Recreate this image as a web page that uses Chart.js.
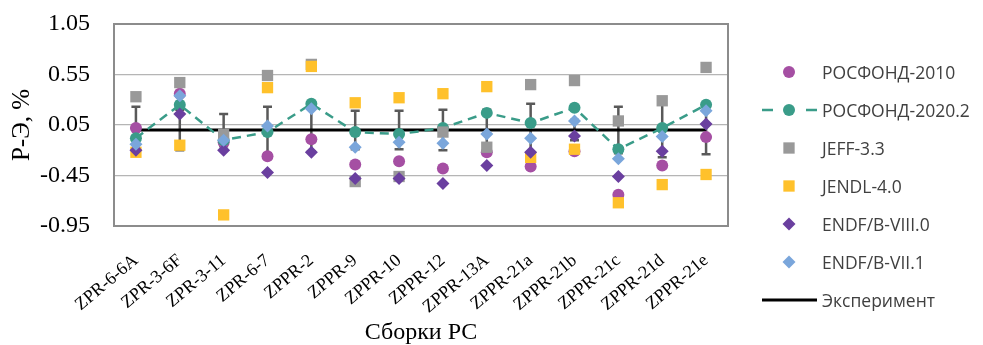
<!DOCTYPE html>
<html>
<head>
<meta charset="utf-8">
<script src="https://cdn.jsdelivr.net/npm/chart.js@4.4.1/dist/chart.umd.min.js"></script>
<style>
  body { margin: 0; background: #fff; }
  #wrap { position: relative; width: 983px; height: 345px; }
  #legend {
    position: absolute; left: 761px; top: 53px;
    font-family: 'Open Sans', sans-serif; font-size: 17.5px; color: #404040;
  }
  .item { display: flex; align-items: center; height: 38px; white-space: nowrap; }
  .item canvas { width: 56px; height: 20px; margin-right: 5px; }
</style>
</head>
<body>
<div id="wrap">
  <canvas id="chart" width="983" height="345"></canvas>
  <div id="legend"></div>
</div>
<script>
// Assemblies (x categories)
const assemblies = ['ZPR-6-6A', 'ZPR-3-6F', 'ZPR-3-11', 'ZPR-6-7', 'ZPPR-2', 'ZPPR-9', 'ZPPR-10',
  'ZPPR-12', 'ZPPR-13A', 'ZPPR-21a', 'ZPPR-21b', 'ZPPR-21c', 'ZPPR-21d', 'ZPPR-21e'];

// C-E deviations, %
const rosfond2010 = [0.02, 0.36, -0.12, -0.26, -0.09, -0.34, -0.31, -0.38, -0.22, -0.36, -0.21, -0.64, -0.35, -0.07];
const rosfond2020 = [-0.08, 0.25, -0.10, -0.02, 0.26, -0.02, -0.04, 0.02, 0.17, 0.07, 0.22, -0.19, 0.02, 0.25];
const jeff33 = [0.33, 0.47, -0.04, 0.54, 0.65, -0.51, -0.46, -0.02, -0.17, 0.45, 0.49, 0.09, 0.29, 0.62];
const jendl40 = [-0.22, -0.15, -0.84, 0.42, 0.63, 0.27, 0.32, 0.36, 0.43, -0.27, -0.19, -0.72, -0.54, -0.44];
const endf80 = [-0.20, 0.16, -0.20, -0.42, -0.22, -0.48, -0.48, -0.53, -0.35, -0.22, -0.06, -0.46, -0.21, 0.06];
const endf71 = [-0.14, 0.34, -0.10, 0.04, 0.21, -0.17, -0.12, -0.13, -0.04, -0.08, 0.09, -0.285, -0.065, 0.19];

// Experiment and its uncertainty
const experiment = [0, 0, 0, 0, 0, 0, 0, 0, 0, 0, 0, 0, 0, 0];
const expError = [0.23, 0.20, 0.16, 0.23, 0.21, 0.19, 0.19, 0.20, 0.20, 0.26, 0.10, 0.23, 0.27, 0.24];

// Y axis ticks
const yTicks = [-0.95, -0.45, 0.05, 0.55, 1.05];

// Plot frame + error bars around experiment
const errorBars = {
  id: 'errorBars',
  beforeDatasetsDraw(chart) {
    const { ctx, chartArea, scales: { x, y } } = chart;
    ctx.save();
    ctx.strokeStyle = '#8c8c8c';
    ctx.lineWidth = 2;
    ctx.strokeRect(chartArea.left, chartArea.top, chartArea.right - chartArea.left, chartArea.bottom - chartArea.top);

    ctx.strokeStyle = '#595959';
    ctx.lineWidth = 2.5;
    experiment.forEach((v, i) => {
      const px = x.getPixelForValue(i);
      const top = y.getPixelForValue(v + expError[i]);
      const bot = y.getPixelForValue(v - expError[i]);
      ctx.beginPath();
      ctx.moveTo(px, top); ctx.lineTo(px, bot);
      ctx.moveTo(px - 4.5, top); ctx.lineTo(px + 4.5, top);
      ctx.moveTo(px - 4.5, bot); ctx.lineTo(px + 4.5, bot);
      ctx.stroke();
    });
    ctx.restore();
  }
};

function markers(label, data, color, style, radius, order) {
  return {
    label: label,
    data: data,
    showLine: false,
    pointStyle: style,
    pointRadius: radius,
    pointBackgroundColor: color,
    pointBorderWidth: 0,
    borderColor: color,
    backgroundColor: color,
    order: order
  };
}

const datasets = [
  markers('РОСФОНД-2010', rosfond2010, '#a54fa3', 'circle', 6, 6),
  {
    label: 'РОСФОНД-2020.2',
    data: rosfond2020,
    borderColor: '#3a9c89',
    borderWidth: 2.5,
    borderDash: [9, 6],
    pointStyle: 'circle',
    pointRadius: 6,
    pointBackgroundColor: '#3a9c89',
    pointBorderWidth: 0,
    backgroundColor: '#3a9c89',
    order: 5
  },
  markers('JEFF-3.3', jeff33, '#999999', 'rect', 8, 4),
  markers('JENDL-4.0', jendl40, '#ffc12b', 'rect', 8, 3),
  markers('ENDF/B-VIII.0', endf80, '#6a3f9f', 'rectRot', 6.5, 2),
  markers('ENDF/B-VII.1', endf71, '#7aa6db', 'rectRot', 6.5, 1),
  {
    label: 'Эксперимент',
    data: experiment,
    borderColor: '#000000',
    borderWidth: 3,
    pointRadius: 0,
    order: 10
  }
];

const chart = new Chart(document.getElementById('chart'), {
  type: 'line',
  data: { labels: assemblies, datasets: datasets },
  options: {
    responsive: false,
    animation: false,
    layout: { padding: { top: 24, right: 255, left: 0, bottom: 0 } },
    plugins: {
      legend: { display: false },
      tooltip: { enabled: false }
    },
    scales: {
      x: {
        offset: true,
        grid: { display: false },
        border: { display: false },
        ticks: {
          autoSkip: false,
          minRotation: 40,
          maxRotation: 40,
          padding: 16,
          color: '#000',
          font: { family: 'Liberation Serif', size: 18 }
        },
        title: {
          display: true,
          text: 'Сборки РС',
          color: '#000',
          padding: { top: 0, bottom: 0 },
          font: { family: 'Liberation Serif', size: 24, lineHeight: 1 }
        },
        afterFit(scale) { scale.height = 119; }
      },
      y: {
        min: -0.95,
        max: 1.05,
        grid: { color: '#b5b5b5', lineWidth: 1.3, drawTicks: false },
        border: { display: false },
        afterBuildTicks(scale) { scale.ticks = yTicks.map(v => ({ value: v })); },
        ticks: {
          padding: 24,
          color: '#000',
          font: { family: 'Liberation Serif', size: 24 },
          callback: v => v.toFixed(2)
        },
        title: {
          display: true,
          text: 'Р-Э, %',
          color: '#000',
          padding: { top: 10, bottom: 0 },
          font: { family: 'Liberation Serif', size: 25, lineHeight: 1 }
        },
        afterFit(scale) {
          scale.width = 114;
          // tick padding should not push the plot area down
          scale.paddingTop = 14;
          scale.paddingBottom = 14;
        }
      }
    }
  },
  plugins: [errorBars]
});

// HTML legend built from the datasets
function drawIcon(cv, ds) {
  const c = cv.getContext('2d');
  cv.width = 56; cv.height = 20;
  const cx = 28, cy = 10;
  if (ds.showLine !== false) {
    c.strokeStyle = ds.borderColor;
    c.lineWidth = ds.borderWidth;
    if (ds.borderDash) c.setLineDash([11, 33]);
    c.beginPath(); c.moveTo(1, cy); c.lineTo(56, cy); c.stroke();
    c.setLineDash([]);
  }
  const r = ds.pointRadius;
  if (!r) return;
  c.fillStyle = ds.pointBackgroundColor;
  c.beginPath();
  if (ds.pointStyle === 'circle') {
    c.arc(cx, cy, r, 0, Math.PI * 2);
  } else if (ds.pointStyle === 'rect') {
    const s = r * Math.SQRT1_2;
    c.rect(cx - s, cy - s, 2 * s, 2 * s);
  } else {
    c.moveTo(cx - r, cy); c.lineTo(cx, cy - r); c.lineTo(cx + r, cy); c.lineTo(cx, cy + r);
    c.closePath();
  }
  c.fill();
}

const legend = document.getElementById('legend');
chart.data.datasets.forEach(ds => {
  const item = document.createElement('div');
  item.className = 'item';
  const cv = document.createElement('canvas');
  drawIcon(cv, ds);
  const span = document.createElement('span');
  span.textContent = ds.label;
  item.appendChild(cv);
  item.appendChild(span);
  legend.appendChild(item);
});
</script>
</body>
</html>
